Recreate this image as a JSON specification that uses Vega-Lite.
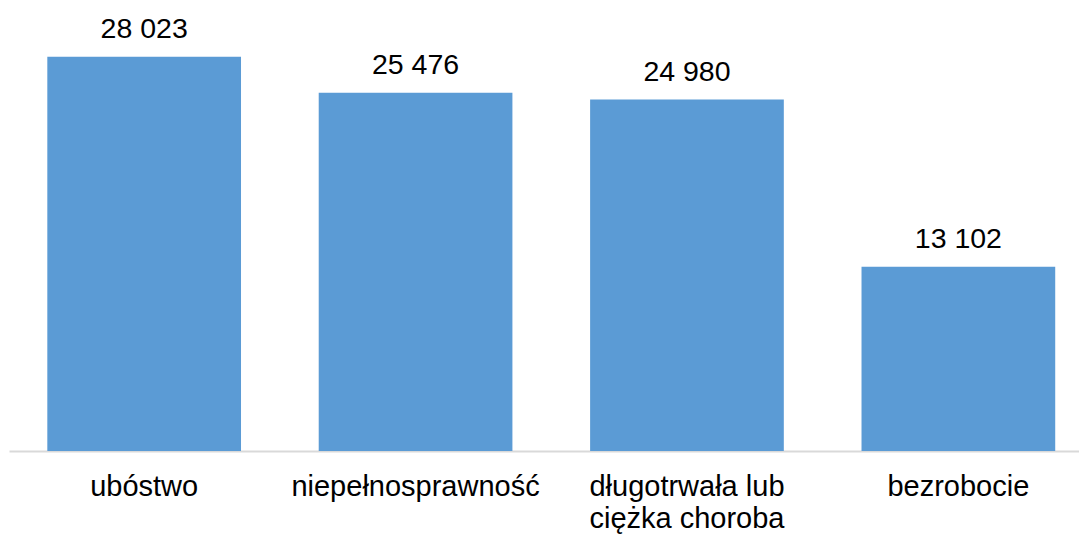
{
  "$schema": "https://vega.github.io/schema/vega-lite/v6.json",
  "width": 1070,
  "height": 422,
  "autosize": {"type": "none"},
  "padding": {"left": 9, "top": 29, "right": 0, "bottom": 83},
  "background": "white",
  "config": {
    "view": {"stroke": null},
    "locale": {"number": {"decimal": ",", "thousands": " ", "grouping": [3], "currency": ["", " zł"]}},
    "font": "Liberation Sans"
  },
  "data": {
    "values": [
      {"kategoria": "ubóstwo", "liczba": 28023},
      {"kategoria": "niepełnosprawność", "liczba": 25476},
      {"kategoria": "długotrwała lub ciężka choroba", "liczba": 24980},
      {"kategoria": "bezrobocie", "liczba": 13102}
    ]
  },
  "encoding": {
    "x": {
      "field": "kategoria",
      "type": "nominal",
      "sort": null,
      "scale": {"paddingInner": 0.2863, "paddingOuter": 0.1144, "align": 0.617},
      "axis": {
        "title": null,
        "ticks": false,
        "domainColor": "#D9D9D9",
        "domainWidth": 2,
        "labelAngle": 0,
        "labelFont": "Liberation Sans",
        "labelFontSize": 29,
        "labelColor": "#000000",
        "labelPadding": 21,
        "labelLimit": 0,
        "labelLineHeight": 32,
        "labelExpr": "datum.label == 'długotrwała lub ciężka choroba' ? ['długotrwała lub', 'ciężka choroba'] : datum.label"
      }
    },
    "y": {
      "field": "liczba",
      "type": "quantitative",
      "scale": {"domain": [0, 30000], "nice": false},
      "axis": null
    }
  },
  "layer": [
    {"mark": {"type": "bar", "color": "#5B9BD5"}},
    {
      "mark": {"type": "text", "baseline": "alphabetic", "dy": -19, "fontSize": 28.5, "color": "#000000", "font": "Liberation Sans"},
      "encoding": {"text": {"field": "liczba", "type": "quantitative", "format": ",d"}}
    }
  ]
}
